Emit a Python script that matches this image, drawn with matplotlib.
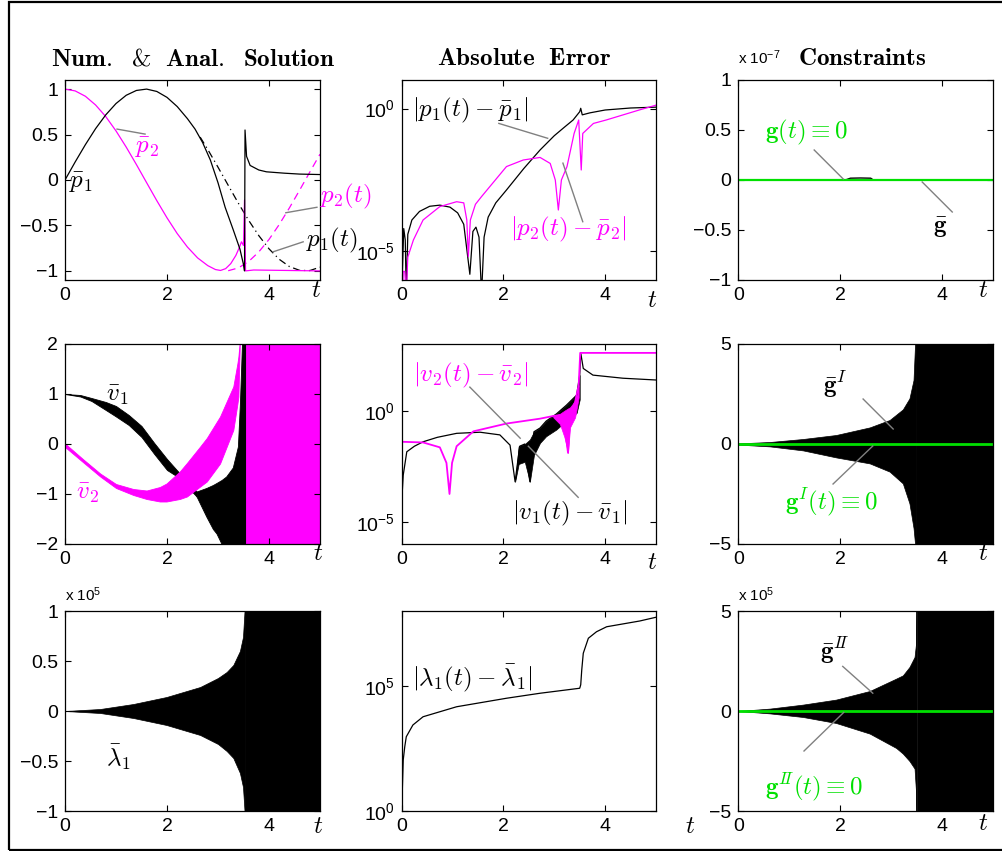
import numpy as np
import matplotlib
matplotlib.use('Agg')
import matplotlib.pyplot as plt
from matplotlib.ticker import NullLocator
from matplotlib.patches import Rectangle

plt.rcParams['font.family'] = ['Liberation Sans', 'DejaVu Sans']
plt.rcParams['mathtext.fontset'] = 'custom'
plt.rcParams['mathtext.rm'] = 'Liberation Sans'
plt.rcParams['mathtext.it'] = 'Liberation Sans:italic'
plt.rcParams['mathtext.bf'] = 'Liberation Sans:bold'

# --- data ---
# row 1, col 1 : positions
p1bar_t = [0, 0.2, 0.4, 0.6, 0.8, 1.0, 1.2, 1.4, 1.6, 1.8, 2.0, 2.2, 2.4, 2.55, 2.7, 2.85, 3.0,
           3.14, 3.3, 3.43, 3.5, 3.52, 3.53, 3.56, 3.63, 3.8, 3.95, 4.3, 4.6, 5.0]
p1bar_v = [0, 0.199, 0.389, 0.565, 0.717, 0.841, 0.932, 0.985, 1.0, 0.974, 0.909, 0.808, 0.675,
           0.56, 0.41, 0.22, -0.03, -0.3, -0.55, -0.76, -0.93, -1.0, 0.55, 0.26, 0.16, 0.11,
           0.09, 0.075, 0.065, 0.06]
p1_t = [2.65, 2.8, 3.0, 3.2, 3.4, 3.6, 3.8, 4.0, 4.2, 4.4, 4.6, 4.8, 5.0]
p1_v = [0.472, 0.335, 0.141, -0.058, -0.256, -0.443, -0.612, -0.757, -0.872, -0.952, -0.994,
        -0.996, -0.959]
p2bar_t = [0, 0.2, 0.4, 0.6, 0.8, 1.0, 1.2, 1.4, 1.6, 1.8, 2.0, 2.2, 2.4, 2.6, 2.8, 2.95, 3.05,
           3.15, 3.25, 3.35, 3.42, 3.46, 3.5, 3.52, 3.54, 3.7, 5.0]
p2bar_v = [1.0, 0.980, 0.921, 0.825, 0.697, 0.540, 0.362, 0.170, -0.029, -0.227, -0.416, -0.589,
           -0.737, -0.857, -0.942, -0.985, -0.995, -0.975, -0.92, -0.83, -0.74, -0.68, -0.72,
           -0.22, -1.0, -0.99, -1.0]
p2_t = [3.2, 3.4, 3.6, 3.8, 4.0, 4.2, 4.4, 4.6, 4.8, 5.0]
p2_v = [-0.998, -0.967, -0.897, -0.791, -0.654, -0.490, -0.307, -0.112, 0.087, 0.284]

# row 1, col 2 : log10 of |p - pbar|
e_p1_t = [0.0, 0.04, 0.07, 0.09, 0.12, 0.2, 0.35, 0.55, 0.75, 0.95, 1.1, 1.22, 1.34, 1.4, 1.46,
          1.52, 1.57, 1.62, 1.7, 1.85, 2.06, 2.4, 2.72, 3.0, 3.2, 3.37, 3.5, 3.52, 3.55, 3.7,
          4.0, 4.5, 5.0]
e_p1_log = [-6.5, -4.2, -4.6, -6.5, -4.4, -3.9, -3.6, -3.42, -3.38, -3.45, -3.65, -4.05, -5.8,
            -4.3, -4.15, -4.5, -6.5, -4.5, -3.8, -3.3, -2.85, -2.1, -1.45, -0.95, -0.65, -0.4,
            -0.11, 0.01, -0.22, -0.15, -0.05, 0.02, 0.05]
e_p2_t = [0.0, 0.01, 0.03, 0.06, 0.09, 0.12, 0.23, 0.42, 0.75, 1.08, 1.22, 1.28, 1.31, 1.35,
          1.45, 1.57, 2.06, 2.39, 2.72, 2.92, 3.02, 3.08, 3.14, 3.25, 3.39, 3.48, 3.53, 3.56,
          3.77, 4.02, 4.67, 5.0]
e_p2_log = [-4.0, -6.5, -5.7, -5.7, -6.5, -5.2, -4.6, -3.9, -3.43, -3.26, -3.3, -3.9, -5.18,
            -3.9, -3.35, -3.08, -2.03, -1.8, -1.71, -1.92, -2.5, -3.55, -2.5, -2.03, -0.87,
            -0.4, -2.15, -0.87, -0.52, -0.4, -0.05, 0.12]

# row 1, col 3 : constraint (x 1e-7)
g_t = [0, 5]
g_v = [0, 0]
gbar_t = [0, 2.1, 2.2, 2.4, 2.6, 2.65, 5.0]
gbar_v = [0, 0, 0.018, 0.02, 0.018, 0, 0]

# row 2, col 1 : velocity bands
v1_t = [0.0, 0.3, 0.52, 0.8, 1.0, 1.25, 1.5, 1.75, 2.0, 2.2, 2.4, 2.58]
v1_hi = [1.0, 0.98, 0.92, 0.84, 0.76, 0.58, 0.36, 0.02, -0.3, -0.53, -0.75, -0.95]
v1_lo = [1.0, 0.95, 0.86, 0.68, 0.55, 0.38, 0.14, -0.2, -0.52, -0.65, -0.85, -1.05]
v1x_t = [2.58, 2.77, 2.9, 2.97, 3.07, 3.16, 3.29, 3.39, 3.43, 3.47, 3.52]
v1x_hi = [-0.95, -0.88, -0.82, -0.78, -0.72, -0.65, -0.47, -0.05, 0.82, 2.0, 2.0]
v1x_lo = [-1.05, -1.45, -1.7, -1.79, -2.0, -2.3, -2.5, -2.5, -2.5, -2.5, -2.5]
v2_t = [0.0, 0.35, 0.69, 1.0, 1.34, 1.6, 1.86, 1.99, 2.25, 2.39, 2.65, 2.78, 3.04, 3.3, 3.38,
        3.4, 3.43]
v2_hi = [0.01, -0.3, -0.59, -0.8, -0.9, -0.93, -0.86, -0.79, -0.55, -0.38, -0.05, 0.12, 0.55,
         1.15, 1.61, 1.75, 2.1]
v2_lo = [-0.06, -0.36, -0.65, -0.88, -1.02, -1.1, -1.15, -1.15, -1.1, -1.05, -0.85, -0.75,
         -0.39, 0.28, 0.8, 0.95, 2.1]
vsat_t = [3.52, 5.0]
vsat_hi = [1e3, 1e3]
vsat_lo = [-1e3, -1e3]

# row 2, col 2 : log10 of |v - vbar|
e_v1_t = [0.0, 0.01, 0.03, 0.1, 0.25, 0.42, 0.7, 1.08, 1.54, 1.93, 2.13, 2.23, 2.32, 2.42, 2.52,
          2.6, 2.72, 2.84, 3.04, 3.24, 3.44, 3.5, 3.52, 3.57, 3.76, 4.35, 5.0]
e_v1_log = [-4.5, -3.7, -2.9, -1.85, -1.6, -1.4, -1.2, -1.02, -0.97, -1.09, -1.55, -3.2, -1.6,
            -1.5, -3.2, -0.95, -0.78, -0.47, -0.15, 0.25, 0.7, 1.6, 2.6, 1.9, 1.6, 1.46, 1.38]
e_v1band_t = [2.23, 2.3, 2.42, 2.52, 2.6, 2.72, 2.84, 3.04, 3.24, 3.44, 3.5]
e_v1band_hi = [-3.2, -1.6, -1.5, -1.3, -0.95, -0.78, -0.47, -0.15, 0.25, 0.7, 1.6]
e_v1band_lo = [-3.2, -2.4, -2.3, -3.2, -2.0, -1.45, -1.15, -0.85, -0.45, -0.1, 0.5]
e_v2_t = [0.0, 0.42, 0.75, 0.88, 0.94, 0.99, 1.08, 1.41, 2.06, 2.72, 2.98, 3.11, 3.2, 3.27,
          3.31, 3.41, 3.48, 3.51, 5.0]
e_v2_log = [-1.4, -1.43, -1.65, -2.35, -3.75, -2.35, -1.6, -0.93, -0.58, -0.36, -0.24, -0.2,
            -0.6, -1.9, -0.2, 0.4, 1.15, 2.6, 2.6]
e_v2band_t = [2.98, 3.11, 3.2, 3.27, 3.31, 3.41, 3.48]
e_v2band_hi = [-0.24, -0.14, 0.0, 0.1, 0.15, 0.45, 1.15]
e_v2band_lo = [-0.3, -0.6, -1.2, -1.9, -0.75, -0.3, 0.6]

# row 2, col 3 : first constraint envelope
gI_t = [0.0, 0.62, 1.27, 1.92, 2.58, 2.97, 3.23, 3.36, 3.44, 3.47, 3.49]
gI_hi = [0.03, 0.1, 0.25, 0.45, 0.83, 1.2, 1.73, 2.28, 3.2, 5.0, 8.0]
gI_lo = [-0.03, -0.12, -0.32, -0.67, -0.97, -1.38, -1.97, -2.97, -4.2, -5.0, -8.0]
gsat_t = [3.49, 5.0]

# row 3, col 1 : multiplier (x 1e5)
lam_t = [0.0, 0.69, 1.34, 1.99, 2.65, 3.0, 3.17, 3.3, 3.43, 3.49, 3.52, 3.53]
lam_hi = [0.0, 0.02, 0.07, 0.14, 0.24, 0.33, 0.39, 0.46, 0.6, 0.74, 1.0, 2.0]
lam_lo = [0.0, -0.02, -0.07, -0.14, -0.24, -0.33, -0.4, -0.47, -0.62, -0.76, -1.0, -2.0]
lsat_t = [3.53, 5.0]

# row 3, col 2 : log10 of |lambda - lambdabar|
e_lam_t = [0.0, 0.02, 0.03, 0.06, 0.09, 0.22, 0.42, 0.75, 1.08, 2.06, 2.72, 3.5, 3.52, 3.54,
           3.57, 3.67, 3.83, 4.03, 4.68, 5.0]
e_lam_log = [0.0, 1.37, 2.04, 2.57, 2.97, 3.44, 3.77, 3.97, 4.17, 4.51, 4.71, 4.91, 5.05, 5.64,
             6.31, 6.91, 7.17, 7.37, 7.6, 7.75]

# row 3, col 3 : second constraint envelope (x 1e5)
gII_t = [0.0, 0.62, 1.27, 1.92, 2.58, 3.1, 3.23, 3.36, 3.46, 3.49, 3.5]
gII_hi = [0.0, 0.12, 0.32, 0.57, 1.0, 1.62, 1.78, 2.2, 2.7, 3.4, 8.0]
gII_lo = [0.0, -0.12, -0.3, -0.6, -1.13, -1.85, -2.13, -2.5, -2.88, -4.1, -8.0]
gIIsat_t = [3.5, 5.0]

# --- layout ---
W, H = 1002, 851
MAG = '#ff00ff'
GRN = '#00e000'
GRAY = '0.5'
COLS = [(65, 320), (401.7, 656), (738.3, 993)]
ROWS = [(80, 280), (344, 544), (611, 811)]
TICK_FS = 14
LAB_FS = 18

fig = plt.figure(figsize=(W / 100, H / 100), dpi=100)
fig.add_artist(Rectangle((8.5 / W, 1.5 / H), 1.0, 1 - 3.0 / H, transform=fig.transFigure,
                         fill=False, edgecolor='k', linewidth=1.6))


def make_ax(col, row):
    x0, x1 = COLS[col]
    y0, y1 = ROWS[row]
    ax = fig.add_axes([x0 / W, 1 - y1 / H, (x1 - x0) / W, (y1 - y0) / H])
    ax.tick_params(direction='in', top=True, right=True, length=4, width=0.8,
                   labelsize=TICK_FS, pad=5)
    ax.set_xlim(0, 5)
    ax.set_xticks([0, 2, 4])
    for s in ax.spines.values():
        s.set_linewidth(0.9)
    return ax


def lab(ax, x, y, s, color='k', ha='center', size=LAB_FS):
    ax.text(x, y, s, color=color, ha=ha, va='center', fontsize=size,
            math_fontfamily='cm', clip_on=False)


def lead(ax, xs, ys):
    ax.plot(xs, ys, color=GRAY, lw=1.0, clip_on=False)


def ftext(x, y, s, **kw):
    fig.text(x / W, 1 - y / H, s, **kw)


def logticks(ax, ticks, labels):
    ax.set_yticks(ticks, labels)
    ax.yaxis.set_minor_locator(NullLocator())


def p10(a):
    return np.power(10.0, a)


# titles
tkw = dict(math_fontfamily='cm', fontsize=18, ha='center', va='center')
ftext(193, 58, r'$\mathbf{Num.\ \ &\ \ Anal.\ \ Solution}$', **tkw)
ftext(524, 58, r'$\mathbf{Absolute\ \ Error}$', **tkw)
ftext(862, 58, r'$\mathbf{Constraints}$', **tkw)

# panel 1
ax = make_ax(0, 0)
ax.plot(p1_t, p1_v, color='k', lw=0.9, ls=(0, (6, 3, 1, 3)))
ax.plot(p2_t, p2_v, color=MAG, lw=0.9, ls=(0, (6, 4)))
ax.plot(p2bar_t, p2bar_v, color=MAG, lw=0.9)
ax.plot(p1bar_t, p1bar_v, color='k', lw=0.9)
ax.set_ylim(-1.1, 1.1)
ax.set_yticks([-1, -0.5, 0, 0.5, 1], ['−1', '−0.5', '0', '0.5', '1'])
lab(ax, 1.61, 0.36, r'$\bar{p}_2$', MAG)
lead(ax, [1.02, 1.57], [0.56, 0.505])
lab(ax, 0.31, -0.02, r'$\bar{p}_1$')
lab(ax, 5.0, -0.18, r'$p_2(t)$', MAG, ha='left')
lead(ax, [4.33, 4.94], [-0.36, -0.30])
lab(ax, 4.72, -0.67, r'$p_1(t)$', ha='left')
lead(ax, [4.08, 4.67], [-0.79, -0.68])

# panel 2
ax = make_ax(1, 0)
ax.semilogy(e_p1_t, p10(e_p1_log), color='k', lw=0.9)
ax.semilogy(e_p2_t, p10(e_p2_log), color=MAG, lw=0.9)
ax.set_ylim(1e-6, 1e1)
logticks(ax, [1e-5, 1e0], [r'$10^{-5}$', r'$10^{0}$'])
lab(ax, 0.2, p10(-0.07), r'$|p_1(t)-\bar{p}_1|$', ha='left')
lead(ax, [1.91, 2.87], p10([-0.52, -1.04]))
lab(ax, 2.13, p10(-4.24), r'$|p_2(t)-\bar{p}_2|$', MAG, ha='left')
lead(ax, [3.17, 3.56], p10([-1.91, -3.96]))

# panel 3
ax = make_ax(2, 0)
ax.plot(gbar_t, gbar_v, color='k', lw=1.0)
ax.plot(g_t, g_v, color=GRN, lw=1.6)
ax.set_ylim(-1, 1)
ax.set_yticks([-1, -0.5, 0, 0.5, 1], ['−1', '−0.5', '0', '0.5', '1'])
ftext(738, 58, r'x 10$^{-7}$', fontsize=11, ha='left', va='center')
lab(ax, 0.52, 0.48, r'$\mathbf{g}(t)\equiv 0$', GRN, ha='left')
lead(ax, [1.49, 2.06], [0.30, 0.01])
lab(ax, 3.96, -0.47, r'$\bar{\mathbf{g}}$')
lead(ax, [3.61, 4.2], [-0.02, -0.32])

# panel 4
ax = make_ax(0, 1)
ax.fill_between(v1_t, v1_lo, v1_hi, color='k', lw=0.6)
ax.fill_between(v1x_t, v1x_lo, v1x_hi, color='k', lw=0.6)
ax.fill_between(v2_t, v2_lo, v2_hi, color=MAG, lw=0.6)
ax.fill_between(vsat_t, vsat_lo, vsat_hi, color=MAG, lw=0)
ax.plot([vsat_t[0], vsat_t[0]], [vsat_lo[0], vsat_hi[0]], color='k', lw=0.8)
ax.set_ylim(-2, 2)
ax.set_yticks([-2, -1, 0, 1, 2], ['−2', '−1', '0', '1', '2'])
lab(ax, 1.02, 0.98, r'$\bar{v}_1$')
lab(ax, 0.45, -0.98, r'$\bar{v}_2$', MAG)

# panel 5
ax = make_ax(1, 1)
ax.fill_between(e_v1band_t, p10(e_v1band_lo), p10(e_v1band_hi), color='k', lw=0.5)
ax.semilogy(e_v1_t, p10(e_v1_log), color='k', lw=0.9)
ax.fill_between(e_v2band_t, p10(e_v2band_lo), p10(e_v2band_hi), color=MAG, lw=0.5)
ax.semilogy(e_v2_t, p10(e_v2_log), color=MAG, lw=1.3)
ax.set_ylim(1e-6, 1e3)
logticks(ax, [1e-5, 1e0], [r'$10^{-5}$', r'$10^{0}$'])
lab(ax, 0.22, p10(1.6), r'$|v_2(t)-\bar{v}_2|$', MAG, ha='left')
lead(ax, [1.34, 2.33], p10([1.06, -1.24]))
lab(ax, 2.17, p10(-4.61), r'$|v_1(t)-\bar{v}_1|$', ha='left')
lead(ax, [3.47, 2.49], p10([-3.9, -1.6]))

# panel 6
ax = make_ax(2, 1)
ax.fill_between(gI_t, gI_lo, gI_hi, color='k', lw=0.5)
ax.fill_between(gsat_t, vsat_lo, vsat_hi, color='k', lw=0.5)
ax.plot(g_t, g_v, color=GRN, lw=2.0)
ax.set_ylim(-5, 5)
ax.set_yticks([-5, 0, 5], ['−5', '0', '5'])
lab(ax, 1.9, 2.95, r'$\bar{\mathbf{g}}^{I}$')
lead(ax, [2.45, 3.04], [2.25, 0.75])
lab(ax, 0.91, -2.9, r'$\mathbf{g}^{I}(t)\equiv 0$', GRN, ha='left')
lead(ax, [1.86, 2.64], [-2.0, -0.1])

# panel 7
ax = make_ax(0, 2)
ax.fill_between(lam_t, lam_lo, lam_hi, color='k', lw=0.5)
ax.fill_between(lsat_t, vsat_lo, vsat_hi, color='k', lw=0.5)
ax.set_ylim(-1, 1)
ax.set_yticks([-1, -0.5, 0, 0.5, 1], ['−1', '−0.5', '0', '0.5', '1'])
ftext(65, 595, r'x 10$^{5}$', fontsize=11, ha='left', va='center')
lab(ax, 1.04, -0.46, r'$\bar{\lambda}_1$')

# panel 8
ax = make_ax(1, 2)
ax.semilogy(e_lam_t, p10(e_lam_log), color='k', lw=0.9)
ax.set_ylim(1e0, 1e8)
logticks(ax, [1e0, 1e5], [r'$10^{0}$', r'$10^{5}$'])
lab(ax, 0.2, p10(5.32), r'$|\lambda_1(t)-\bar{\lambda}_1|$', ha='left')

# panel 9
ax = make_ax(2, 2)
ax.fill_between(gII_t, gII_lo, gII_hi, color='k', lw=0.5)
ax.fill_between(gIIsat_t, vsat_lo, vsat_hi, color='k', lw=0.5)
ax.plot(g_t, g_v, color=GRN, lw=2.0)
ax.set_ylim(-5, 5)
ax.set_yticks([-5, 0, 5], ['−5', '0', '5'])
ftext(738, 595, r'x 10$^{5}$', fontsize=11, ha='left', va='center')
lab(ax, 1.9, 3.03, r'$\bar{\mathbf{g}}^{I\!I}$')
lead(ax, [2.05, 2.64], [2.23, 0.89])
lab(ax, 0.52, -3.8, r'$\mathbf{g}^{I\!I}(t)\equiv 0$', GRN, ha='left')
lead(ax, [1.29, 2.07], [-2.0, -0.07])

# t labels
for (x, y) in [(316, 290), (652, 300), (983, 290), (318, 553), (652, 562), (983, 553),
               (318, 826), (690, 826), (983, 823)]:
    ftext(x, y, r'$t$', math_fontfamily='cm', fontsize=18, ha='center', va='center')

fig.savefig('out.png', dpi=100)
